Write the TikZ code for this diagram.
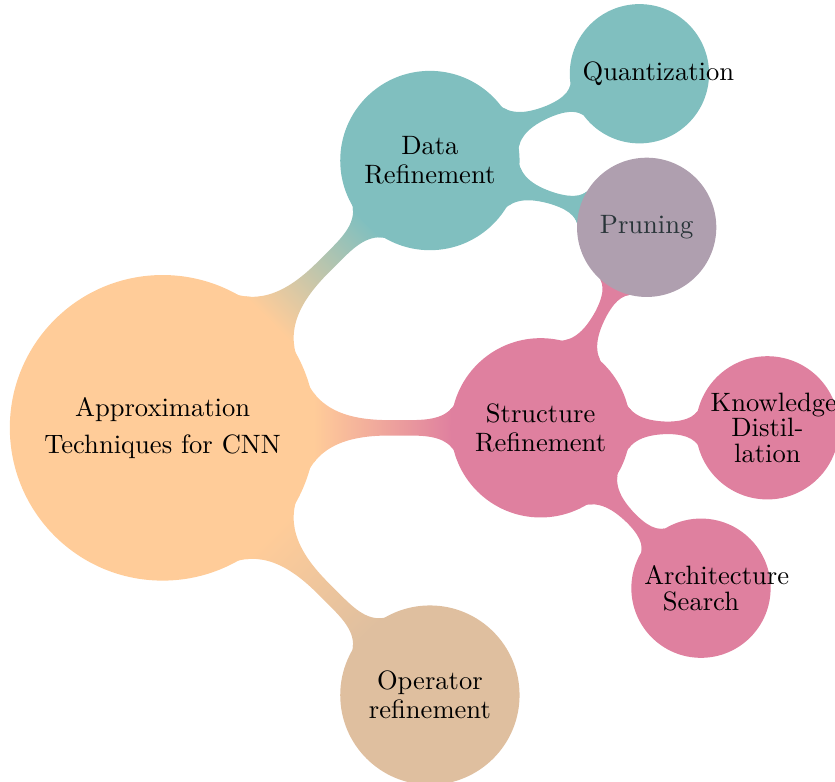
\documentclass[tikz,border=0pt]{standalone}
\usetikzlibrary{mindmap,backgrounds,calc}
\definecolor{prunetext}{RGB}{40,52,56}
\begin{document}
\begin{tikzpicture}[mindmap, line cap = round, line join = round,
	rootc/.style={concept, concept color=orange!40, minimum size=4cm, text width=3.5cm, inner sep=0pt, align=center, font=\normalsize, execute at begin node={\baselineskip=14pt}},
	mainc/.style={concept, minimum size=2.33cm, text width=2cm, inner sep=0pt, align=center, font=\normalsize, execute at begin node={\baselineskip=11pt}},
	subc/.style={concept, minimum size=1.8cm, text width=1.5cm, inner sep=1pt, align=center, font=\normalsize, execute at begin node={\baselineskip=9.5pt}}]
		\useasboundingbox (-2.151,-4.672) rectangle (8.894,5.659);
		\node[rootc] (root) at (0,0) {Approximation Techniques for CNN};
		\node[mainc, concept color=teal!50] (data) at (45:5) {Data\\Refinement};
		\node[mainc, concept color=purple!50] (struct) at (0:5) {Structure\\Refinement};
		\node[mainc, concept color=brown!50] (oper) at (-45:5) {Operator\\refinement};
		\node[subc, concept color=teal!50] (quant) at ($(data)+(22.5:3)$) {Quantization};
		\node[subc, concept color=purple!50!teal!50, text=prunetext] (prune) at (6.403,2.652) {Pruning};
		\node[subc, concept color=purple!50] (know) at (8,0) {Knowledge\\Distil-\\lation};
		\node[subc, concept color=purple!50] (arch) at ($(struct)+(-45:3)$) {Architecture\\Search};
		\begin{scope}[on background layer]
		\path (root) to[circle connection bar switch color=from (orange!40) to (teal!50)] (data);
		\path (root) to[circle connection bar switch color=from (orange!40) to (purple!50)] (struct);
		\path (root) to[circle connection bar switch color=from (orange!40) to (brown!50)] (oper);
		\path (data) to[circle connection bar switch color=from (teal!50) to (teal!50)] (quant);
		\path (data) to[circle connection bar switch color=from (teal!50) to (teal!50)] (prune);
		\path (struct) to[circle connection bar switch color=from (purple!50) to (purple!50)] (prune);
		\path (struct) to[circle connection bar switch color=from (purple!50) to (purple!50)] (know);
		\path (struct) to[circle connection bar switch color=from (purple!50) to (purple!50)] (arch);
		\end{scope}
\end{tikzpicture}
\end{document}
